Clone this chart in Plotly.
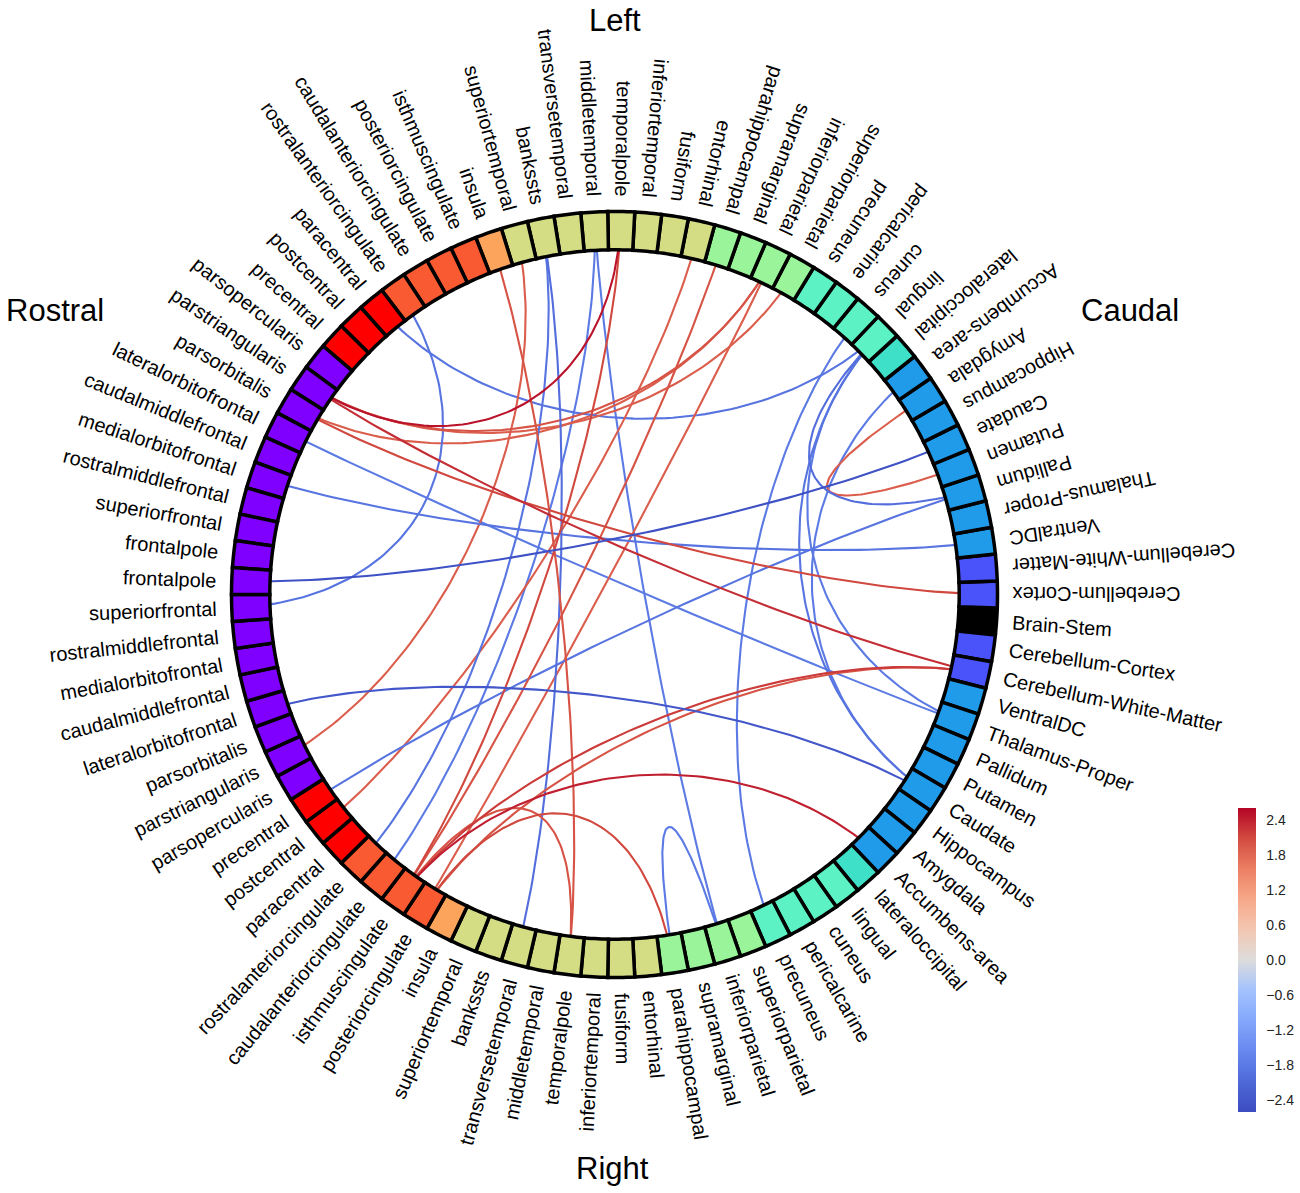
import numpy as np
import plotly.graph_objects as go

# ---------------- data ----------------
left_nodes = ["Cerebellum-Cortex", "Cerebellum-White-Matter", "VentralDC", "Thalamus-Proper",
              "Pallidum", "Putamen", "Caudate", "Hippocampus", "Amygdala", "Accumbens-area",
              "lateraloccipital", "lingual", "cuneus", "pericalcarine", "precuneus",
              "superiorparietal", "inferiorparietal", "supramarginal", "parahippocampal",
              "entorhinal", "fusiform", "inferiortemporal", "temporalpole", "middletemporal",
              "transversetemporal", "bankssts", "superiortemporal", "insula", "isthmuscingulate",
              "posteriorcingulate", "caudalanteriorcingulate", "rostralanteriorcingulate",
              "paracentral", "postcentral", "precentral", "parsopercularis", "parstriangularis",
              "parsorbitalis", "lateralorbitofrontal", "caudalmiddlefrontal", "medialorbitofrontal",
              "rostralmiddlefrontal", "superiorfrontal", "frontalpole"]
right_nodes = ["Cerebellum-Cortex", "Cerebellum-White-Matter", "VentralDC", "Thalamus-Proper",
               "Pallidum", "Putamen", "Caudate", "Hippocampus", "Amygdala", "Accumbens-area",
               "lateraloccipital", "lingual", "cuneus", "pericalcarine", "precuneus",
               "superiorparietal", "inferiorparietal", "supramarginal", "parahippocampal",
               "entorhinal", "fusiform", "inferiortemporal", "temporalpole", "middletemporal",
               "transversetemporal", "bankssts", "superiortemporal", "insula", "posteriorcingulate",
               "isthmuscingulate", "caudalanteriorcingulate", "rostralanteriorcingulate",
               "paracentral", "postcentral", "precentral", "parsopercularis", "parstriangularis",
               "parsorbitalis", "lateralorbitofrontal", "caudalmiddlefrontal", "medialorbitofrontal",
               "rostralmiddlefrontal", "superiorfrontal", "frontalpole"]
midline_node = "Brain-Stem"

group_members = {
    "frontal": ["frontalpole", "superiorfrontal", "rostralmiddlefrontal", "medialorbitofrontal",
                "caudalmiddlefrontal", "lateralorbitofrontal", "parsorbitalis",
                "parstriangularis", "parsopercularis"],
    "central": ["precentral", "postcentral", "paracentral"],
    "cingulate": ["rostralanteriorcingulate", "caudalanteriorcingulate", "posteriorcingulate",
                  "isthmuscingulate"],
    "insula": ["insula"],
    "temporal": ["superiortemporal", "bankssts", "transversetemporal", "middletemporal",
                 "temporalpole", "inferiortemporal", "fusiform", "entorhinal"],
    "parietal": ["parahippocampal", "supramarginal", "inferiorparietal", "superiorparietal"],
    "occipital": ["precuneus", "pericalcarine", "cuneus", "lingual"],
    "latocc": ["lateraloccipital"],
    "subcortical": ["Accumbens-area", "Amygdala", "Hippocampus", "Caudate", "Putamen",
                    "Pallidum", "Thalamus-Proper", "VentralDC"],
    "cerebellum": ["Cerebellum-White-Matter", "Cerebellum-Cortex"],
    "stem": ["Brain-Stem"],
}
group_colors = {"frontal": "#8000ff", "central": "#ff0000", "cingulate": "#fa5a32",
                "insula": "#fca45c", "temporal": "#d4dc84", "parietal": "#9af59a",
                "occipital": "#5cf2c4", "latocc": "#3ee0c8", "subcortical": "#1f9bea",
                "cerebellum": "#4a52fa", "stem": "#000000"}

# connections (L: = left hemisphere / top, R: = right hemisphere / bottom)
edge_from = ["L:parstriangularis", "L:parsorbitalis", "L:parstriangularis",
             "L:parstriangularis", "L:parstriangularis", "L:parsorbitalis", "L:temporalpole",
             "L:insula", "L:superiortemporal", "L:entorhinal", "L:parahippocampal",
             "L:inferiorparietal", "L:Amygdala", "R:posteriorcingulate",
             "R:Cerebellum-White-Matter", "R:Cerebellum-White-Matter", "R:isthmuscingulate",
             "R:isthmuscingulate",
             "R:frontalpole", "L:rostralanteriorcingulate", "L:paracentral", "L:bankssts",
             "L:middletemporal", "R:parahippocampal", "L:cuneus", "L:lingual", "L:lingual",
             "L:Accumbens-area", "L:lateralorbitofrontal", "L:medialorbitofrontal",
             "R:lateralorbitofrontal", "R:precentral", "L:lingual",
             "R:caudalanteriorcingulate", "R:rostralanteriorcingulate"]
edge_to = ["L:inferiorparietal", "L:inferiorparietal", "L:superiorparietal", "L:temporalpole",
           "R:Cerebellum-White-Matter", "L:Cerebellum-Cortex", "R:isthmuscingulate",
           "R:temporalpole", "R:parstriangularis", "R:postcentral", "R:isthmuscingulate",
           "R:posteriorcingulate", "L:Putamen", "R:parahippocampal", "R:isthmuscingulate",
           "R:posteriorcingulate", "R:temporalpole", "R:Accumbens-area",
           "L:Caudate", "R:superiorfrontal", "L:lingual", "R:transversetemporal",
           "R:inferiorparietal", "R:inferiorparietal", "R:precuneus", "R:Caudate",
           "R:Thalamus-Proper", "R:Caudate", "R:Thalamus-Proper", "L:VentralDC", "R:Caudate",
           "L:Pallidum", "L:Pallidum", "L:middletemporal", "L:bankssts"]
edge_value = [2.0, 1.9, 1.9, 2.5, 2.3, 2.1, 2.1, 2.0, 1.9, 1.9, 2.0, 1.9, 1.9, 2.1, 2.2, 2.0,
              2.0, 2.4,
              -2.5, -1.9, -1.9, -2.0, -1.8, -1.8, -1.8, -1.9, -1.8, -1.8, -1.8, -1.9, -2.4,
              -1.9, -2.0, -1.8, -1.9]

cbar_ticks = [-2.4, -1.8, -1.2, -0.6, 0.0, 0.6, 1.2, 1.8, 2.4]
vmin, vmax = -2.6, 2.6

# ---------------- geometry / style ----------------
W, H = 1300, 1193
CX, CY = 614.5, 594.5
R_OUT = 383.0              # radius 10 in polar units
R_IN = R_OUT * 0.9         # ring from 9 to 10
R_CTRL = R_OUT * 0.5       # bezier control points at radius 5
R_LAB = R_OUT * 1.04       # labels at 10.4
N_TOT = len(left_nodes) + len(right_nodes) + 1
STEP = 360.0 / N_TOT
PHI0 = -STEP  # Brain-Stem angle (deg)
FONT = "Liberation Sans, Arial, Helvetica, sans-serif"
LABEL_SIZE = 20

group_of = {n: g for g, members in group_members.items() for n in members}

nodes = []  # (key, label, angle)
nodes.append(("M:" + midline_node, midline_node, PHI0))
for k, n in enumerate(left_nodes, start=1):
    nodes.append(("L:" + n, n, PHI0 + k * STEP))
for k, n in enumerate(right_nodes, start=1):
    nodes.append(("R:" + n, n, PHI0 - k * STEP))
angle_of = {key: ang for key, _, ang in nodes}

coolwarm = ["#3b4cc0", "#4f69d9", "#6788ee", "#84a7fc", "#a3c2fe", "#dddcdc",
            "#f3c7b1", "#f7a889", "#ec7f63", "#d24b40", "#b40426"]


def hex2rgb(h):
    return np.array([int(h[i:i + 2], 16) for i in (1, 3, 5)], dtype=float)


def cmap(v):
    t = (v - vmin) / (vmax - vmin)
    t = min(max(t, 0.0), 1.0) * (len(coolwarm) - 1)
    i = int(np.floor(t))
    if i >= len(coolwarm) - 1:
        c = hex2rgb(coolwarm[-1])
    else:
        f = t - i
        c = hex2rgb(coolwarm[i]) * (1 - f) + hex2rgb(coolwarm[i + 1]) * f
    return "rgb(%d,%d,%d)" % tuple(np.round(c).astype(int))


def polar(r, phi_deg):
    a = np.radians(phi_deg)
    return CX + r * np.cos(a), CY - r * np.sin(a)


widths = {'a': 556, 'b': 556, 'c': 500, 'd': 556, 'e': 556, 'f': 278, 'g': 556, 'h': 556,
          'i': 222, 'j': 222, 'k': 500, 'l': 222, 'm': 833, 'n': 556, 'o': 556, 'p': 556,
          'q': 556, 'r': 333, 's': 500, 't': 278, 'u': 556, 'v': 500, 'w': 722, 'x': 500,
          'y': 500, 'z': 500, 'A': 667, 'B': 667, 'C': 722, 'D': 722, 'E': 667, 'F': 611,
          'G': 778, 'H': 722, 'I': 278, 'L': 556, 'M': 833, 'P': 667, 'R': 722, 'S': 667,
          'T': 611, 'V': 667, 'W': 944, '-': 333}


def text_width(s, size):
    return sum(widths.get(ch, 556) for ch in s) / 1000.0 * size


fig = go.Figure()

# ---------------- edges ----------------
t = np.linspace(0, 1, 90)
order = np.argsort(np.abs(edge_value))
for idx in order:
    a0 = angle_of[edge_from[idx]]
    a1 = angle_of[edge_to[idx]]
    P0 = np.array(polar(R_OUT, a0))
    P1 = np.array(polar(R_CTRL, a0))
    P2 = np.array(polar(R_CTRL, a1))
    P3 = np.array(polar(R_OUT, a1))
    B = (np.outer((1 - t) ** 3, P0) + np.outer(3 * (1 - t) ** 2 * t, P1)
         + np.outer(3 * (1 - t) * t ** 2, P2) + np.outer(t ** 3, P3))
    fig.add_trace(go.Scatter(x=B[:, 0], y=B[:, 1], mode="lines",
                             line=dict(color=cmap(edge_value[idx]), width=2.1),
                             hoverinfo="skip", showlegend=False))

# ---------------- ring boxes ----------------
shapes = []
for key, label, ang in nodes:
    grp = group_of[label]
    aa = np.linspace(ang - STEP / 2, ang + STEP / 2, 8)
    ox, oy = polar(R_OUT, aa)
    ix, iy = polar(R_IN, aa[::-1])
    xs = np.concatenate([ox, ix])
    ys = np.concatenate([oy, iy])
    path = "M " + " L ".join("%.2f,%.2f" % (x, y) for x, y in zip(xs, ys)) + " Z"
    shapes.append(dict(type="path", path=path, xref="x", yref="y",
                       fillcolor=group_colors[grp], line=dict(color="black", width=3.5),
                       layer="above"))

# ---------------- labels ----------------
annotations = []
for key, label, ang in nodes:
    a = ang % 360
    w = text_width(label, LABEL_SIZE)
    cx, cy = polar(R_LAB + w / 2, ang)
    if a >= 270:
        rot = -a  # reads outward
    else:
        rot = 180 - a  # reads inward
    rot = (rot + 180) % 360 - 180
    annotations.append(dict(x=cx, y=cy, xref="x", yref="y", text=label, showarrow=False,
                            textangle=rot, xanchor="center", yanchor="middle",
                            font=dict(family=FONT, size=LABEL_SIZE, color="black")))

for txt, x, y in [("Left", 615, 20), ("Right", 612, 1168), ("Rostral", 55, 310),
                  ("Caudal", 1130, 310)]:
    annotations.append(dict(x=x, y=y, xref="x", yref="y", text=txt, showarrow=False,
                            xanchor="center", yanchor="middle",
                            font=dict(family=FONT, size=31, color="black")))

# ---------------- colorbar ----------------
cs = [[i / (len(coolwarm) - 1), c] for i, c in enumerate(coolwarm)]
fig.add_trace(go.Scatter(x=[-100], y=[-100], mode="markers", hoverinfo="skip",
                         showlegend=False,
                         marker=dict(color=[0], colorscale=cs, cmin=vmin, cmax=vmax,
                                     showscale=True,
                                     colorbar=dict(x=1238 / W, xanchor="left", xpad=0,
                                                   y=(H - 1112) / H, yanchor="bottom", ypad=0,
                                                   len=304 / H, lenmode="fraction",
                                                   thickness=18, thicknessmode="pixels",
                                                   outlinewidth=0, tickvals=cbar_ticks,
                                                   ticktext=[("%.1f" % v).replace("-", "\u2212")
                                                             for v in cbar_ticks],
                                                   ticks="outside", ticklen=8,
                                                   tickcolor="rgba(0,0,0,0)",
                                                   tickfont=dict(family=FONT, size=14,
                                                                 color="#222")))))

fig.update_layout(width=W, height=H, margin=dict(l=0, r=0, t=0, b=0),
                  paper_bgcolor="white", plot_bgcolor="white", showlegend=False,
                  xaxis=dict(range=[0, W], visible=False, fixedrange=True),
                  yaxis=dict(range=[H, 0], visible=False, fixedrange=True),
                  shapes=shapes, annotations=annotations)

fig.write_html("out.html", config={"displayModeBar": False},
               post_script="document.body.style.margin='0px';")
